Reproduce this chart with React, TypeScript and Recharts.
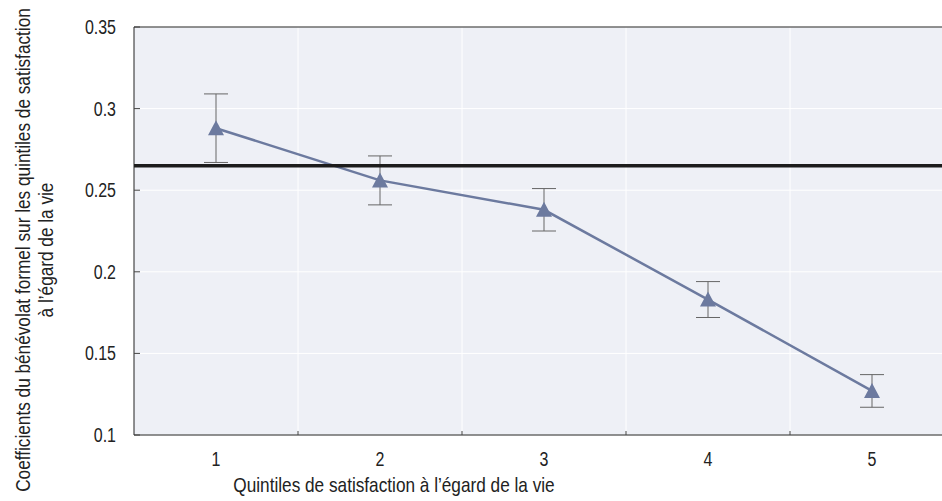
import {
	CartesianGrid,
	ComposedChart,
	ErrorBar,
	Line,
	ReferenceLine,
	XAxis,
	YAxis,
} from "recharts";

const quintiles = [1, 2, 3, 4, 5];
const coefficients = [0.288, 0.256, 0.238, 0.183, 0.127];
const lowerBounds = [0.267, 0.241, 0.225, 0.172, 0.117];
const upperBounds = [0.309, 0.271, 0.251, 0.194, 0.137];
const referenceValue = 0.265;
const yTicks = [0.1, 0.15, 0.2, 0.25, 0.3, 0.35];
const xTicks = [1, 1.5, 2, 2.5, 3, 3.5, 4, 4.5, 5];
const boundaries = [1.5, 2.5, 3.5, 4.5];

const data = quintiles.map((q, i) => ({
	q,
	value: coefficients[i],
	err: [coefficients[i] - lowerBounds[i], upperBounds[i] - coefficients[i]],
}));

// no condensed font installed, so squeeze Liberation Sans horizontally
const FONT = "'Liberation Sans', Arial, sans-serif";
const SQUEEZE = 0.82;
const LINE_COLOR = "#6c7a9f";

function Narrow(props: {
	x: number;
	y: number;
	size: number;
	anchor: "start" | "middle" | "end";
	rotate?: number;
	children: any;
}) {
	const { x, y, size, anchor, rotate = 0, children } = props;
	return (
		<text
			x={0}
			y={0}
			textAnchor={anchor}
			fontFamily={FONT}
			fontSize={size}
			fill="#222"
			transform={`translate(${x},${y}) rotate(${rotate}) scale(${SQUEEZE},1)`}
		>
			{children}
		</text>
	);
}

function XTick(props: any) {
	const { x, y, payload } = props;
	if (!Number.isInteger(payload.value)) {
		return <line x1={x} x2={x} y1={y} y2={y - 4} stroke="#444" />;
	}
	return (
		<Narrow x={x} y={y + 31} size={19.5} anchor="middle">
			{payload.value}
		</Narrow>
	);
}

function YTick(props: any) {
	const { x, y, payload } = props;
	return (
		<g>
			<line x1={x} x2={x + 6} y1={y} y2={y} stroke="#444" />
			<Narrow x={x - 18} y={y + 7} size={19.5} anchor="end">
				{payload.value}
			</Narrow>
		</g>
	);
}

function Triangle(props: any) {
	const { cx, cy } = props;
	if (cx == null || cy == null) return null;
	return (
		<polygon
			points={`${cx},${cy - 8} ${cx + 8},${cy + 7} ${cx - 8},${cy + 7}`}
			fill={LINE_COLOR}
		/>
	);
}

function XTitle(props: any) {
	const { viewBox } = props;
	return (
		<Narrow x={viewBox.x + 260} y={viewBox.y + 57} size={21} anchor="middle">
			Quintiles de satisfaction à l’égard de la vie
		</Narrow>
	);
}

function YTitle() {
	return (
		<g>
			<Narrow x={30} y={250} size={21} anchor="middle" rotate={-90}>
				Coefficients du bénévolat formel sur les quintiles de satisfaction
			</Narrow>
			<Narrow x={53} y={250} size={21} anchor="middle" rotate={-90}>
				à l’égard de la vie
			</Narrow>
		</g>
	);
}

export default function App() {
	return (
		<div
			style={{
				position: "absolute",
				left: 0,
				top: 0,
				width: 942,
				height: 501,
				overflow: "hidden",
				background: "#fff",
			}}
		>
			<ComposedChart
				width={954}
				height={501}
				data={data}
				margin={{ top: 27, right: 0, bottom: 0, left: 0 }}
			>
				<CartesianGrid
					vertical={false}
					stroke="#ffffff"
					fill="#eef0f6"
					strokeWidth={1}
				/>
				{boundaries.map((b) => (
					<ReferenceLine key={b} x={b} stroke="#ffffff" strokeWidth={1} />
				))}
				<XAxis
					dataKey="q"
					type="number"
					domain={[0.5, 5.5]}
					ticks={xTicks}
					interval={0}
					height={66}
					tickSize={0}
					tickMargin={0}
					tickLine={false}
					tick={<XTick />}
					stroke="#222"
					label={<XTitle />}
				/>
				<YAxis
					type="number"
					domain={[0.1, 0.35]}
					ticks={yTicks}
					interval={0}
					width={134}
					tickSize={0}
					tickMargin={0}
					tickLine={false}
					tick={<YTick />}
					stroke="#222"
					label={<YTitle />}
				/>
				<ReferenceLine y={0.35} stroke="#222" strokeWidth={1} />
				<Line
					dataKey="value"
					stroke={LINE_COLOR}
					strokeWidth={2.5}
					dot={<Triangle />}
					activeDot={false}
					isAnimationActive={false}
				>
					<ErrorBar dataKey="err" direction="y" width={12} stroke="#666" strokeWidth={1} />
				</Line>
				<ReferenceLine y={referenceValue} stroke="#1c1c1c" strokeWidth={3.5} />
			</ComposedChart>
		</div>
	);
}
